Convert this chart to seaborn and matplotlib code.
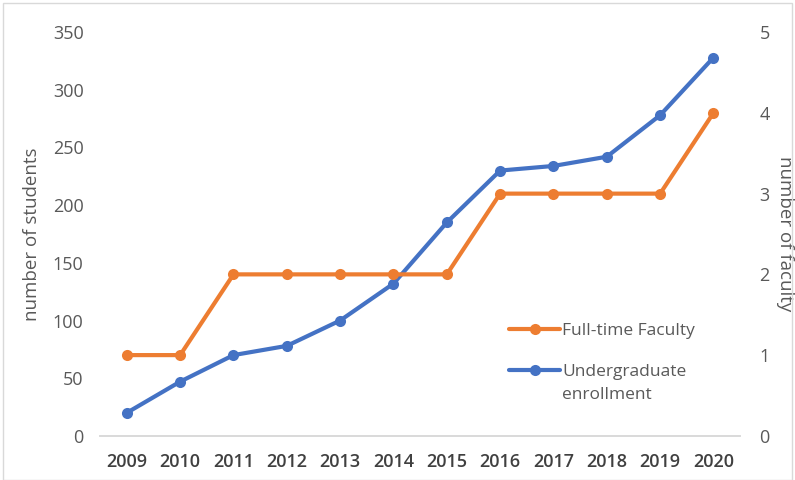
import matplotlib
matplotlib.use("Agg")
import matplotlib.pyplot as plt
import seaborn as sns
import pandas as pd

years = ["2009", "2010", "2011", "2012", "2013", "2014", "2015", "2016", "2017", "2018", "2019", "2020"]
enrollment = [20, 47, 70, 78, 100, 132, 185, 230, 234, 242, 278, 328]
faculty = [1, 1, 2, 2, 2, 2, 2, 3, 3, 3, 3, 4]

student_ticks = [0, 50, 100, 150, 200, 250, 300, 350]
faculty_ticks = [0, 1, 2, 3, 4, 5]

sns.set_theme(style="white")
plt.rcParams["font.family"] = ["Open Sans", "DejaVu Sans"]

blue = "#4472C4"
orange = "#ED7D31"
tick_col = "#595959"

df = pd.DataFrame({"pos": range(len(years)), "year": years,
                   "enrollment": enrollment, "faculty": faculty})

fig = plt.figure(figsize=(7.95, 4.8), dpi=100)
ax = fig.add_axes([0.126, 0.092, 0.805, 0.841])
ax2 = ax.twinx()

sns.lineplot(data=df, x="pos", y="enrollment", ax=ax, color=blue, lw=3,
             marker="o", markersize=8, markeredgewidth=0, label="Undergraduate",
             legend=False)
sns.lineplot(data=df, x="pos", y="faculty", ax=ax2, color=orange, lw=3,
             marker="o", markersize=8, markeredgewidth=0, label="Full-time Faculty",
             legend=False)

ax.set_xlim(-0.5, len(years) - 0.5)
ax.set_ylim(0, 350)
ax2.set_ylim(0, 5)
ax.set_yticks(student_ticks)
ax2.set_yticks(faculty_ticks)
ax.set_xticks(range(len(years)))
ax.set_xticklabels(years, fontsize=13, color="#404040", fontweight="semibold")
ax.tick_params(axis="y", labelsize=13, labelcolor=tick_col, length=0, pad=12)
ax2.tick_params(axis="y", labelsize=13, labelcolor=tick_col, length=0, pad=14)
ax.tick_params(axis="x", length=0, pad=12)

ax.set_xlabel("")
ax.set_ylabel("number of students", fontsize=13.5, color=tick_col)
ax.yaxis.set_label_coords(-0.092, 0.5)
ax2.set_ylabel("number of faculty", fontsize=13.5, color=tick_col, rotation=270, va="center")
ax2.yaxis.set_label_coords(1.07, 0.5)

for a in (ax, ax2):
    for side in ("top", "left", "right"):
        a.spines[side].set_visible(False)
    a.spines["bottom"].set_color("#D9D9D9")
    a.spines["bottom"].set_linewidth(1.2)
    a.patch.set_visible(False)

h1, l1 = ax2.get_legend_handles_labels()
h2, l2 = ax.get_legend_handles_labels()
leg = ax.legend(h1 + h2, l1 + l2, loc="upper left", bbox_to_anchor=(0.615, 0.318),
                frameon=False, fontsize=12.5, labelcolor=tick_col, handlelength=2.9,
                handletextpad=0.15, labelspacing=1.4)

# second line of the enrollment entry, hanging under its first line
fig.canvas.draw()
bb = leg.get_texts()[1].get_window_extent().transformed(ax.transAxes.inverted())
ax.text(bb.x0, bb.y0 - 0.018, "enrollment", transform=ax.transAxes,
        va="top", ha="left", fontsize=12.5, color=tick_col)

fig.patches.append(plt.Rectangle((0.004, 0.0), 0.992, 0.994, transform=fig.transFigure,
                                 fill=False, edgecolor="#D9D9D9", lw=1))

fig.savefig("out.png", dpi=100)
